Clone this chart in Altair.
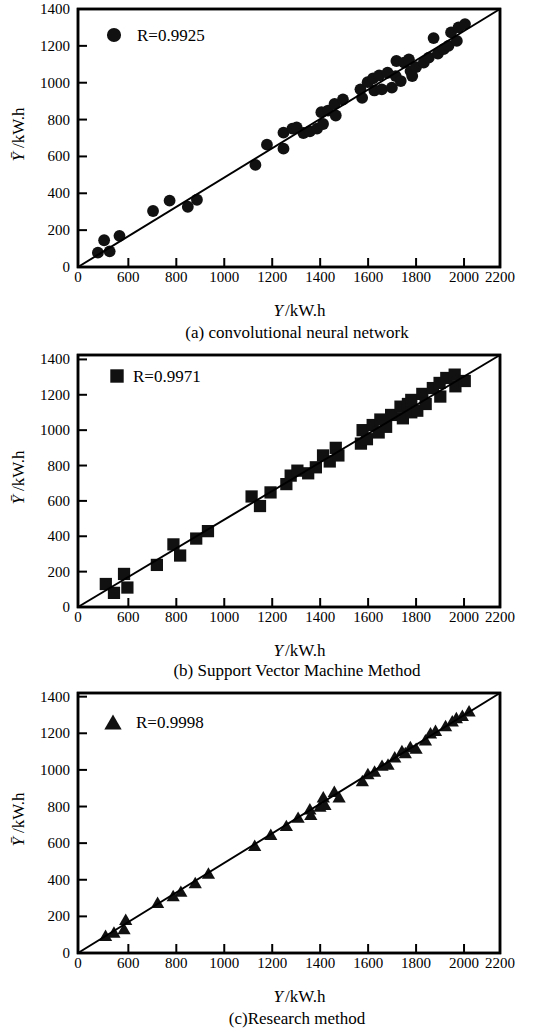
import altair as alt
import pandas as pd

FONT = "Liberation Serif"

# ---------------- data ----------------
# (a) convolutional neural network
cnn_x = [473, 499, 522, 563, 703, 772, 848, 886, 1130, 1178, 1247, 1247, 1284, 1302, 1330,
         1357, 1387, 1412, 1405, 1433, 1460, 1465, 1495, 1568, 1575, 1598, 1621, 1626, 1646,
         1657, 1681, 1699, 1715, 1718, 1736, 1750, 1770, 1777, 1784, 1800, 1832, 1853, 1873,
         1891, 1915, 1935, 1946, 1970, 1977, 2004]
cnn_y = [78, 145, 85, 169, 304, 360, 327, 365, 554, 664, 642, 729, 751, 758, 727,
         736, 751, 776, 840, 849, 885, 822, 909, 964, 918, 1003, 1024, 958, 1040,
         964, 1054, 973, 1036, 1118, 1009, 1109, 1127, 1063, 1036, 1085, 1109, 1136, 1242,
         1158, 1182, 1200, 1273, 1227, 1300, 1318]

# (b) support vector machine
svm_x = [506, 540, 582, 596, 719, 788, 816, 883, 932, 1114, 1149, 1193, 1259, 1277, 1305,
         1350, 1382, 1412, 1440, 1465, 1476, 1570, 1577, 1595, 1619, 1644, 1651, 1675, 1696,
         1735, 1745, 1766, 1780, 1780, 1805, 1826, 1840, 1870, 1898, 1901, 1926, 1961, 1964, 2003]
svm_y = [130, 80, 187, 110, 238, 354, 291, 387, 429, 625, 571, 648, 695, 743, 771,
         756, 790, 857, 823, 900, 857, 924, 1000, 949, 1029, 987, 1060, 1019, 1086,
         1133, 1067, 1148, 1171, 1101, 1110, 1205, 1148, 1238, 1267, 1190, 1295, 1314, 1248, 1278]

# (c) research method
res_x = [505, 540, 582, 589, 722, 787, 819, 879, 934, 1127, 1194, 1259, 1308, 1357, 1361,
         1399, 1413, 1420, 1459, 1479, 1576, 1599, 1627, 1658, 1683, 1711, 1741, 1755, 1776,
         1800, 1839, 1860, 1881, 1923, 1951, 1968, 1993, 2021]
res_y = [97, 115, 134, 184, 277, 314, 338, 385, 437, 589, 649, 697, 742, 788, 757,
         803, 853, 812, 883, 853, 942, 980, 994, 1026, 1032, 1072, 1106, 1095, 1128,
         1119, 1165, 1203, 1217, 1243, 1268, 1286, 1299, 1323]

x_domain = [390, 2150]          # plot edges, labelled "0" and "2200" in the figure
x_label_pos = [390, 600, 800, 1000, 1200, 1400, 1600, 1800, 2000, 2150]
x_label_txt = ["0", "600", "800", "1000", "1200", "1400", "1600", "1800", "2000", "2200"]
x_ticks = [600, 800, 1000, 1200, 1400, 1600, 1800, 2000]
y_ticks = [0, 200, 400, 600, 800, 1000, 1200, 1400]
y_inner_ticks = [200, 400, 600, 800, 1000, 1200, 1400]
r_labels = ["R=0.9925", "R=0.9971", "R=0.9998"]
captions = ["(a) convolutional neural network", "(b) Support Vector Machine Method", "(c)Research method"]
y_tops = [1400, 1425, 1420]

W = 422
LBL = 15
TXT = 17
INK = "black"


def panel(xs, ys, shape, size, leg_size, r_text, caption, ytop, H, leg_pos, cap_dy):
    xscale = alt.Scale(domain=x_domain, nice=False, zero=False)
    yscale = alt.Scale(domain=[0, ytop], nice=False, zero=False)
    X = lambda f: alt.X(f, type="quantitative", scale=xscale, axis=None)
    Y = lambda f: alt.Y(f, type="quantitative", scale=yscale, axis=None)

    df = pd.DataFrame({"x": xs, "y": ys})
    pts = alt.Chart(df).mark_point(filled=True, shape=shape, size=size, color="#111111",
                                   opacity=1).encode(x=X("x"), y=Y("y"))
    line = alt.Chart(pd.DataFrame({"lx": x_domain, "ly": [0, ytop]})).mark_line(
        color=INK, strokeWidth=2).encode(x=X("lx"), y=Y("ly"))

    # inward ticks
    xt = alt.Chart(pd.DataFrame({"v": x_ticks})).mark_rule(color=INK, strokeWidth=2).encode(
        x=X("v"), y=alt.value(H), y2=alt.value(H - 9))
    yt = alt.Chart(pd.DataFrame({"w": y_inner_ticks})).mark_rule(color=INK, strokeWidth=2).encode(
        y=Y("w"), x=alt.value(0), x2=alt.value(9))

    # frame
    one = pd.DataFrame({"t": [r_text]})
    frame = alt.Chart(one).mark_rect(fill="transparent", stroke=INK, strokeWidth=2.5).encode(
        x=alt.value(0), x2=alt.value(W), y=alt.value(0), y2=alt.value(H))

    # tick labels
    xl = alt.Chart(pd.DataFrame({"p": x_label_pos, "s": x_label_txt})).mark_text(
        font=FONT, fontSize=LBL, align="center", baseline="top", color="black").encode(
        x=X("p"), y=alt.value(H + 3), text="s:N")
    yl = alt.Chart(pd.DataFrame({"q": y_ticks})).mark_text(
        font=FONT, fontSize=LBL, align="right", baseline="middle", color="black").encode(
        y=Y("q"), x=alt.value(-8), text=alt.Text("q:Q", format="d"))

    # legend
    leg_m = alt.Chart(one).mark_point(filled=True, shape=shape, size=leg_size, color="#111111",
                                      opacity=1).encode(
        x=alt.value(leg_pos[0]), y=alt.value(leg_pos[1]))
    leg_t = alt.Chart(one).mark_text(font=FONT, fontSize=TXT, align="left", baseline="middle",
                                     color="black").encode(
        x=alt.value(leg_pos[2]), y=alt.value(leg_pos[1] + 1), text="t:N")

    # axis titles and caption
    cx = W / 2 + 8
    xt1 = alt.Chart(pd.DataFrame({"t": ["Y"]})).mark_text(
        font=FONT, fontSize=TXT, fontStyle="italic", align="right", baseline="middle",
        color="black").encode(x=alt.value(cx - 14), y=alt.value(H + 44), text="t:N")
    xt2 = alt.Chart(pd.DataFrame({"t": ["/kW.h"]})).mark_text(
        font=FONT, fontSize=TXT, align="left", baseline="middle",
        color="black").encode(x=alt.value(cx - 12), y=alt.value(H + 44), text="t:N")
    yt1 = alt.Chart(pd.DataFrame({"t": ["\u0232"]})).mark_text(
        font=FONT, fontSize=TXT, fontStyle="italic", align="right", baseline="middle", angle=270,
        color="black").encode(x=alt.value(-59), y=alt.value(H / 2 + 14), text="t:N")
    yt2 = alt.Chart(pd.DataFrame({"t": ["/kW.h"]})).mark_text(
        font=FONT, fontSize=TXT, align="left", baseline="middle", angle=270,
        color="black").encode(x=alt.value(-59), y=alt.value(H / 2 + 10), text="t:N")
    cap = alt.Chart(pd.DataFrame({"t": [caption]})).mark_text(
        font=FONT, fontSize=TXT, align="center", baseline="middle",
        color="black").encode(x=alt.value(cx), y=alt.value(H + cap_dy), text="t:N")

    return alt.layer(pts, line, xt, yt, frame, xl, yl, leg_m, leg_t,
                     xt1, xt2, yt1, yt2, cap).properties(width=W, height=H)


pa = panel(cnn_x, cnn_y, "circle", 140, 200, r_labels[0], captions[0], y_tops[0], 258, (36, 26, 59), 66)
pb = panel(svm_x, svm_y, "square", 150, 180, r_labels[1], captions[1], y_tops[1], 252, (39, 21, 55), 64)
pc = panel(res_x, res_y, "triangle-up", 175, 300, r_labels[2], captions[2], y_tops[2], 260, (35, 29, 58), 66)

chart = alt.vconcat(pa, pb, pc, spacing=6).properties(
    padding={"left": 8, "top": 0, "right": 5, "bottom": 0}
).configure_view(stroke="black", strokeWidth=2.5)

chart.save("out.html", embed_options={"renderer": "svg", "actions": False})
